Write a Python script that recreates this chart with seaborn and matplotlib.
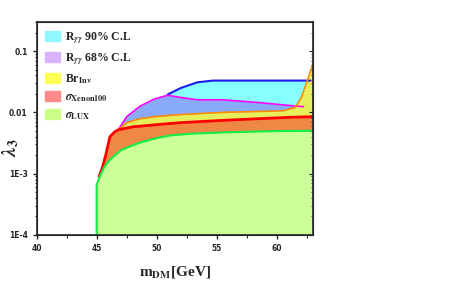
import numpy as np
import matplotlib
matplotlib.use("Agg")
import matplotlib.pyplot as plt
import seaborn as sns
from matplotlib.patches import Patch

# curves (m_DM in GeV, lambda_3)
lux_x = [45, 45, 45.25, 45.6, 46, 46.4, 47, 48, 48.6, 50, 51.1, 53, 55.5, 58, 60, 62.8, 63]
lux_y = [1e-4, 6.6e-4, 8.9e-4, 1.25e-3, 1.6e-3, 1.9e-3, 2.4e-3, 2.9e-3, 3.2e-3, 3.8e-3,
         4.2e-3, 4.5e-3, 4.7e-3, 4.85e-3, 4.95e-3, 5.0e-3, 5.0e-3]

xe_x = [45.2, 45.5, 45.8, 46.1, 46.5, 46.8, 48, 50, 52, 55.5, 58, 61, 63]
xe_y = [9e-4, 1.3e-3, 2.2e-3, 4.0e-3, 4.8e-3, 5.2e-3, 5.8e-3, 6.3e-3, 6.8e-3, 7.4e-3,
        7.8e-3, 8.3e-3, 8.5e-3]

br_x = [46.8, 47.5, 48.5, 50, 52, 55.5, 58, 60.5, 61.5, 62, 62.4, 62.8, 63]
br_y = [5.2e-3, 6.8e-3, 7.8e-3, 8.6e-3, 9.2e-3, 1.0e-2, 1.03e-2, 1.06e-2, 1.2e-2,
        1.7e-2, 2.8e-2, 4.8e-2, 6.2e-2]

r68_x = [46.8, 47.5, 48.6, 49.8, 50.9, 52, 53.4, 55.5, 58.4, 61.7, 62.2]
r68_y = [5.2e-3, 8.5e-3, 1.26e-2, 1.65e-2, 1.9e-2, 1.75e-2, 1.6e-2, 1.6e-2, 1.45e-2,
         1.26e-2, 1.24e-2]

r90_x = [50.9, 52, 53.4, 54.7, 56, 58, 60, 62, 62.8]
r90_y = [1.95e-2, 2.5e-2, 3.1e-2, 3.3e-2, 3.3e-2, 3.3e-2, 3.3e-2, 3.3e-2, 3.3e-2]

labels = [r"R$_{\gamma\gamma}$ 90% C.L", r"R$_{\gamma\gamma}$ 68% C.L", r"Br$_{\rm Inv}$",
          r"$\sigma_{\rm Xenon100}$", r"$\sigma_{\rm LUX}$"]
legend_colors = ["#8ff8ff", "#d8b4ff", "#ffff55", "#ff8a8a", "#ccff88"]

sns.set_style("ticks")
plt.rcParams["font.family"] = ["Liberation Serif", "DejaVu Serif"]
plt.rcParams["mathtext.fontset"] = "stix"
plt.rcParams["font.weight"] = "bold"

fig = plt.figure(figsize=(4.63, 2.84), dpi=100)
ax = fig.add_axes([0.079, 0.173, 0.597, 0.75])
bottom = 1e-4

# upper edge of the 90% region follows the 68% line until the blue line splits off
up_x = r68_x[:4] + r90_x
up_y = r68_y[:4] + r90_y

# filled regions, top-most first
ax.fill_between(up_x, bottom, up_y, color="#88ffff", lw=0)
ax.fill_between(r68_x, bottom, r68_y, color="#88aaf8", lw=0)
ax.fill_between(br_x, bottom, br_y, color="#e6ee5c", lw=0)
ax.fill_between(xe_x, bottom, xe_y, color="#ee8844", lw=0)
ax.fill_between(lux_x, bottom, lux_y, color="#ccff99", lw=0)

sns.lineplot(x=r90_x, y=r90_y, ax=ax, color="#1a1aee", lw=1.5, sort=False, estimator=None)
sns.lineplot(x=r68_x, y=r68_y, ax=ax, color="#ff00ff", lw=1.2, sort=False, estimator=None)
sns.lineplot(x=br_x, y=br_y, ax=ax, color="#ff8c00", lw=1.2, sort=False, estimator=None)
sns.lineplot(x=xe_x, y=xe_y, ax=ax, color="#ff0000", lw=2, sort=False, estimator=None)
sns.lineplot(x=lux_x, y=lux_y, ax=ax, color="#11ee44", lw=1.5, sort=False, estimator=None)

ax.set_yscale("log")
ax.set_xlim(40, 63)
ax.set_ylim(1e-4, 0.3)
ax.set_xticks([40, 45, 50, 55, 60])
ax.set_xticks([42.5, 47.5, 52.5, 57.5, 62.5], minor=True)
ax.set_yticks([1e-4, 1e-3, 1e-2, 0.1])
ax.set_yticklabels(["1E-4", "1E-3", "0.01", "0.1"])
for lab in ax.get_xticklabels() + ax.get_yticklabels():
    lab.set_family("DejaVu Sans")
    lab.set_fontsize(5.5)
    lab.set_fontweight("bold")
ax.tick_params(which="major", length=3, width=1)
ax.tick_params(which="minor", length=1.8, width=0.8)
for sp in ax.spines.values():
    sp.set_linewidth(1.2)

ax2 = ax.twinx()
ax2.set_yscale("log")
ax2.set_ylim(1e-4, 0.3)
ax2.tick_params(which="both", direction="in", labelright=False)
ax2.tick_params(which="major", length=3)
ax2.tick_params(which="minor", length=1.8)

ax.set_xlabel(r"m$_{\rm DM}$[GeV]", fontsize=11, fontweight="bold", labelpad=8)
fig.text(0.024, 0.48, r"$\lambda_3$", fontsize=14, rotation=90, ha="center", va="center")

handles = [Patch(facecolor=c, edgecolor=c) for c in legend_colors]
ax.legend(handles, labels, loc="upper left", bbox_to_anchor=(0.0, 1.0), frameon=False,
          prop={"family": "Liberation Serif", "weight": "bold", "size": 8.5},
          handlelength=1.25, handleheight=0.9, labelspacing=0.45, handletextpad=0.45,
          borderaxespad=0.3)

fig.savefig("out.png", dpi=100)
